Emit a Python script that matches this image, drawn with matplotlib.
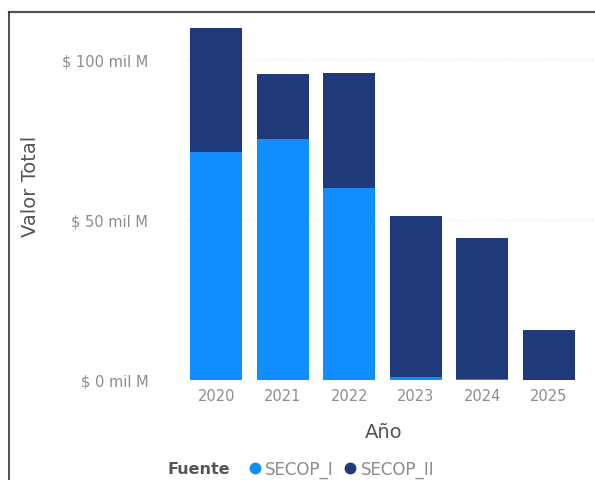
import numpy as np
import matplotlib
matplotlib.use('Agg')
import matplotlib.pyplot as plt
from matplotlib.lines import Line2D

plt.rcParams['font.family'] = ['DejaVu Sans']

years = ['2020', '2021', '2022', '2023', '2024', '2025']
secop_i = [71.0, 75.1, 59.8, 1.0, 0.3, 0.0]
secop_ii = [38.7, 20.2, 35.8, 50.1, 43.9, 15.6]
yticks = [0, 50, 100]
ytick_labels = ['$ 0 mil M', '$ 50 mil M', '$ 100 mil M']
series_names = ['SECOP_I', 'SECOP_II']

c_i = '#118dff'
c_ii = '#1f3a7a'

fig = plt.figure(figsize=(5.95, 4.81), dpi=100)
# plot area: left 183px, right edge of figure, bottom 381px, top ~21px
ax = fig.add_axes([183 / 595, 1 - 381 / 481, 412 / 595, 359.5 / 481])

x = np.arange(len(years))
ax.bar(x, secop_i, width=0.78, color=c_i, zorder=3)
ax.bar(x, secop_ii, width=0.78, bottom=secop_i, color=c_ii, zorder=3)

ax.set_xlim(-0.5, 5.696)
ax.set_ylim(0, 112)
ax.set_yticks(yticks)
ax.set_yticklabels(ytick_labels)
ax.set_xticks(x)
ax.set_xticklabels(years)
ax.tick_params(axis='y', length=0, pad=25, labelsize=10.5, labelcolor='#8c8c8c')
ax.tick_params(axis='x', length=0, pad=6, labelsize=10.5, labelcolor='#8c8c8c')
ax.yaxis.grid(True, color='#ececec', linestyle=':', linewidth=1, zorder=0)
for s in ax.spines.values():
    s.set_visible(False)

ax.set_xlabel('Año', fontsize=14, color='#555555')
ax.xaxis.set_label_coords(0.488, -0.1446)
ax.xaxis.label.set_va('center')
ax.set_ylabel('Valor Total', fontsize=14, color='#555555')
ax.yaxis.set_label_coords(-0.369, 0.5424)
ax.yaxis.label.set_va('center')

# legend
fig.text(230 / 595, 1 - 470 / 481, 'Fuente', ha='right', va='center',
         fontsize=11.5, fontweight='bold', color='#555555')
handles = [Line2D([], [], marker='o', linestyle='none', color=c, markersize=7.5)
           for c in (c_i, c_ii)]
leg = fig.legend(handles, series_names, ncol=2, frameon=False,
                 loc='center left', bbox_to_anchor=(250 / 595, 1 - 470 / 481),
                 borderpad=0, borderaxespad=0,
                 handlelength=0.6, handletextpad=0.3, columnspacing=0.7, fontsize=12)
for t in leg.get_texts():
    t.set_color('#8c8c8c')

# frame lines at top and left
fig.add_artist(Line2D([9 / 595, 1], [1 - 12.5 / 481, 1 - 12.5 / 481], color='#555555', lw=1.6))
fig.add_artist(Line2D([9 / 595, 9 / 595], [0, 1 - 12.5 / 481], color='#333333', lw=1.2))

fig.savefig('out.png', dpi=100)
